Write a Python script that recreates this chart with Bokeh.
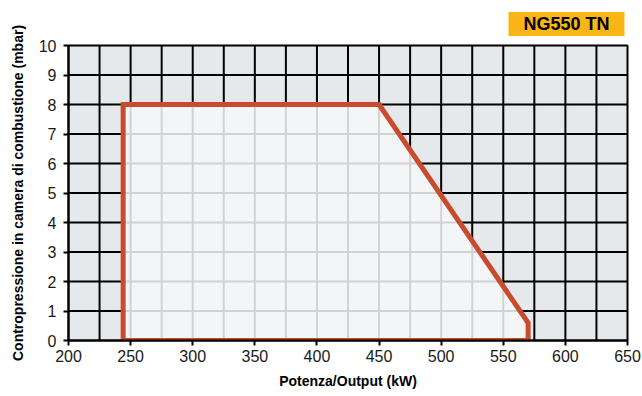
from bokeh.plotting import figure
from bokeh.models import Title, Range1d, FixedTicker
from bokeh.embed import file_html
from bokeh.resources import INLINE

# data
title_text = "NG550 TN"
x_label = "Potenza/Output (kW)"
y_label = "Contropressione in camera di combustione (mbar)"
env_x = [244, 244, 450, 570, 570]
env_y = [0, 8, 8, 0.6, 0]
x_ticks = [200, 250, 300, 350, 400, 450, 500, 550, 600, 650]
y_ticks = [0, 1, 2, 3, 4, 5, 6, 7, 8, 9, 10]
x_grid = [225, 250, 275, 300, 325, 350, 375, 400, 425, 450, 475, 500, 525, 550, 575, 600, 625]
y_grid = [1, 2, 3, 4, 5, 6, 7, 8, 9]

xmin, xmax, ymin, ymax = 200, 650, 0, 10
x_left, x_knee, x_right = env_x[0], env_x[2], env_x[3]
y_top, y_low = env_y[1], env_y[3]


def top_of(x):
    if x <= x_knee:
        return y_top
    return y_top - (x - x_knee) / (x_right - x_knee) * (y_top - y_low)


def right_of(y):
    if y <= y_low:
        return x_right
    return x_knee + (y_top - y) / (y_top - y_low) * (x_right - x_knee)


bx0, by0, bx1, by1 = [], [], [], []
gx0, gy0, gx1, gy1 = [], [], [], []
for x in x_grid:
    if x < x_left or x > x_right:
        bx0.append(x); by0.append(ymin); bx1.append(x); by1.append(ymax)
    else:
        t = top_of(x)
        gx0.append(x); gy0.append(ymin); gx1.append(x); gy1.append(t)
        bx0.append(x); by0.append(t); bx1.append(x); by1.append(ymax)
for y in y_grid:
    if y > y_top:
        bx0.append(xmin); by0.append(y); bx1.append(xmax); by1.append(y)
    else:
        r = right_of(y)
        bx0.append(xmin); by0.append(y); bx1.append(x_left); by1.append(y)
        gx0.append(x_left); gy0.append(y); gx1.append(r); gy1.append(y)
        bx0.append(r); by0.append(y); bx1.append(xmax); by1.append(y)

p = figure(width=642, height=392, output_backend="svg", toolbar_location=None,
           x_range=Range1d(xmin, xmax), y_range=Range1d(ymin, ymax),
           min_border_left=68, min_border_right=15, min_border_top=44, min_border_bottom=52)
p.background_fill_color = "#e6e9ec"
p.border_fill_color = "white"
p.outline_line_color = "black"
p.outline_line_width = 2
p.xgrid.visible = False
p.ygrid.visible = False

p.patch(env_x, env_y, fill_color="#f4f5f7", line_color=None)
p.segment(gx0, gy0, gx1, gy1, line_color="#d2d2d2", line_width=2)
p.segment(bx0, by0, bx1, by1, line_color="black", line_width=2)
p.patch(env_x, env_y, fill_color=None, line_color="#c94b2d", line_width=5, line_join="miter")

for ax in (p.xaxis[0], p.yaxis[0]):
    ax.axis_line_color = "black"
    ax.axis_line_width = 2
    ax.major_tick_line_color = "black"
    ax.major_tick_line_width = 2
    ax.major_tick_in = 0
    ax.major_tick_out = 5
    ax.minor_tick_line_color = None
    ax.major_label_text_font = "Liberation Sans"
    ax.major_label_text_font_size = "16px"
    ax.major_label_text_color = "#1a1a1a"
    ax.axis_label_text_font = "Liberation Sans"
    ax.axis_label_text_font_style = "bold"
    ax.axis_label_text_font_size = "14px"
    ax.axis_label_text_color = "black"

p.xaxis.ticker = FixedTicker(ticks=x_ticks)
p.yaxis.ticker = FixedTicker(ticks=y_ticks)
p.xaxis.axis_label = x_label
p.yaxis.axis_label = y_label
p.xaxis.major_label_standoff = 4
p.yaxis.major_label_standoff = 7
p.xaxis.axis_label_standoff = 8
p.yaxis.axis_label_standoff = 10

p.add_layout(Title(text=title_text, align="right", offset=3, standoff=19,
                   text_font="Liberation Sans", text_font_style="bold", text_font_size="18px",
                   text_color="black", background_fill_color="#fbb516", padding=(15, 2)), "above")

open("out.html", "w").write(file_html(p, INLINE))
